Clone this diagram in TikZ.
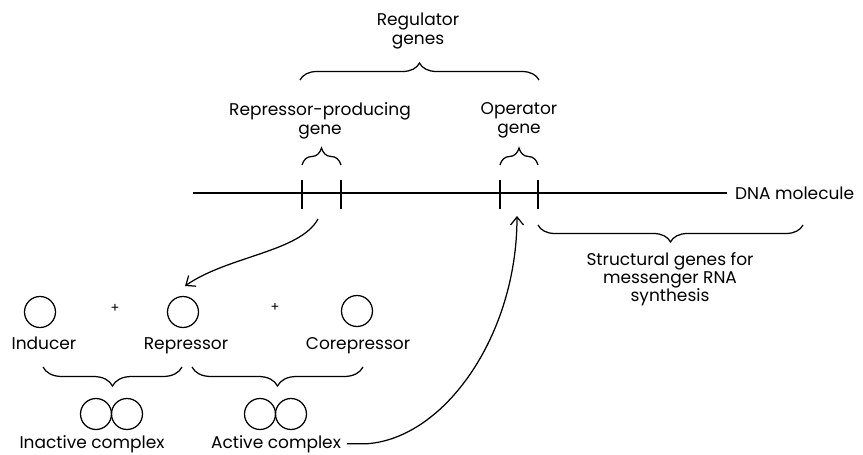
\documentclass[tikz,border=0pt]{standalone}
\usepackage{fontspec}
\setmainfont{Poppins}
\usetikzlibrary{arrows.meta,decorations.pathreplacing}
\begin{document}
\begin{tikzpicture}[x=1pt,y=-1pt,
  ink/.style={line width=1.25pt,black},
  lbl/.style={inner sep=0pt,align=center,font=\fontsize{17}{19}\selectfont},
  lblx/.style={inner sep=0pt,align=center,font=\fontsize{17}{18}\selectfont},
  plus/.style={inner sep=0pt,font=\fontsize{13}{13}\selectfont},
  ball/.style={circle,draw,ink,minimum size=31pt,inner sep=0pt},
  bracebig/.style={ink,decorate,decoration={brace,amplitude=17pt}},
  bracelow/.style={ink,decorate,decoration={brace,amplitude=19pt}},
  tick/.style={ink},
  barb/.style={ink,-{Straight Barb[length=8pt,width=13pt,line width=1.25pt]}}
]
\useasboundingbox (0,0) rectangle (863,455);

% DNA strand and its gene boundaries
\coordinate (dnaL) at (193,193);
\node[lbl,anchor=west] (dna) at (735,193) {DNA molecule};
\draw[ink] (dnaL) -- ([xshift=-8pt]dna.west);
\foreach \n/\x in {ta/302,tb/341,tc/500,td/538}{
  \coordinate (\n) at (\x,193);
  \draw[tick] (\x,180) -- (\x,209);
}

% regulator genes
\node[lbl,anchor=north] (reg) at (418,13) {Regulator\\genes};
\draw[bracebig] (300,80) -- (539,80);
\node[lbl,anchor=north] (rpg) at (320,102) {Repressor-producing\\gene};
\node[lbl,anchor=north] (opg) at (519,102) {Operator\\gene};
\draw[bracebig] (302,165) -- (341,165);
\draw[bracebig] (500,165) -- (538,165);

% structural genes
\draw[bracebig] (803,225) -- (538,225);
\node[lblx,anchor=north] (struct) at (670,252) {Structural genes for\\messenger RNA\\synthesis};

% free molecules
\node[ball] (ind) at (40,312) {};
\node[ball] (rep) at (183,312) {};
\node[ball] (corep) at (357,311) {};
\node[plus] (p1) at (115,308) {+};
\node[plus] (p2) at (275,307) {+};
\node[lbl,anchor=base] (indl) at (44,349) {Inducer};
\node[lbl,anchor=base] (repl) at (186,349) {Repressor};
\node[lbl,anchor=base] (corepl) at (358,349) {Corepressor};

% complexes
\draw[bracelow] (182,367) -- (43,367);
\draw[bracelow] (363,367) -- (192,367);
\node[ball] (ia) at (96,414) {};
\node[ball] (ib) at (127,414) {};
\node[ball] (aa) at (260,414) {};
\node[ball] (ab) at (291,414) {};
\node[lbl,anchor=base] (inact) at (92,448) {Inactive complex};
\node[lbl,anchor=base] (active) at (276,448) {Active complex};

% repressor made by its gene; active complex binds the operator
\coordinate (rpgOut) at (318,219);
\coordinate (repIn) at (185,286);
\coordinate (opIn) at (517,216);
\draw[barb] (rpgOut) .. controls (300,252) and (228,256) .. (repIn);
\draw[barb] ([xshift=6pt]active.east) -- ++(20,0)
  .. controls (445,438) and (517,335) .. (opIn);
\end{tikzpicture}
\end{document}
